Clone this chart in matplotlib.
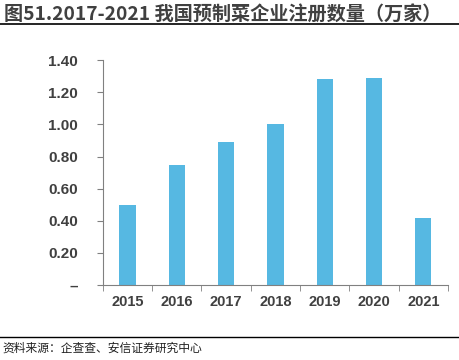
import matplotlib.pyplot as plt
from matplotlib.ticker import FixedLocator, NullFormatter

plt.rcParams['font.family'] = ['Liberation Sans', 'Noto Sans CJK SC', 'DejaVu Sans']

years = ['2015', '2016', '2017', '2018', '2019', '2020', '2021']
counts = [0.50, 0.75, 0.89, 1.00, 1.28, 1.29, 0.42]
y_ticks = [0, 0.2, 0.4, 0.6, 0.8, 1.0, 1.2, 1.4]
y_labels = ['–', '0.20', '0.40', '0.60', '0.80', '1.00', '1.20', '1.40']

fig = plt.figure(figsize=(4.59, 3.6), dpi=100)
ax = fig.add_axes([0.224, 0.208, 0.752, 0.625])

x = range(len(years))
ax.bar(x, counts, width=0.33, color='#56B8E2')

ax.set_xlim(-0.5, len(years) - 0.5)
ax.set_ylim(0, 1.4)
ax.set_xticks(list(x))
ax.set_xticklabels(years, fontsize=10.5, fontweight='bold', color='#404040')
ax.tick_params(axis='x', which='major', length=0, pad=7)
ax.xaxis.set_minor_locator(FixedLocator([i - 0.5 for i in range(len(years) + 1)]))
ax.xaxis.set_minor_formatter(NullFormatter())
ax.tick_params(axis='x', which='minor', length=4, color='#808080', direction='out')

ax.set_yticks(y_ticks)
ax.set_yticklabels(y_labels, fontsize=11, fontweight='bold', color='#404040')
ax.tick_params(axis='y', length=4, color='#808080', direction='out', pad=14)

for side in ['top', 'right']:
    ax.spines[side].set_visible(False)
for side in ['left', 'bottom']:
    ax.spines[side].set_color('#808080')
    ax.spines[side].set_linewidth(0.8)

fig.text(0.008, 0.958, '图51.2017-2021 我国预制菜企业注册数量（万家）',
         fontsize=13.8, fontweight='bold', color='#404040', va='center',
         family=['Noto Sans CJK SC', 'DejaVu Sans'])
fig.add_artist(plt.Line2D([0, 1], [0.932, 0.932], color='black', lw=1.2))
fig.add_artist(plt.Line2D([0, 1], [0.064, 0.064], color='black', lw=1.0))
fig.text(0.005, 0.033, '资料来源：企查查、安信证券研究中心', fontsize=8.5,
         style='italic', color='#202020', va='center',
         family=['Noto Sans CJK SC', 'DejaVu Sans'])

fig.savefig('out.png', dpi=100)
